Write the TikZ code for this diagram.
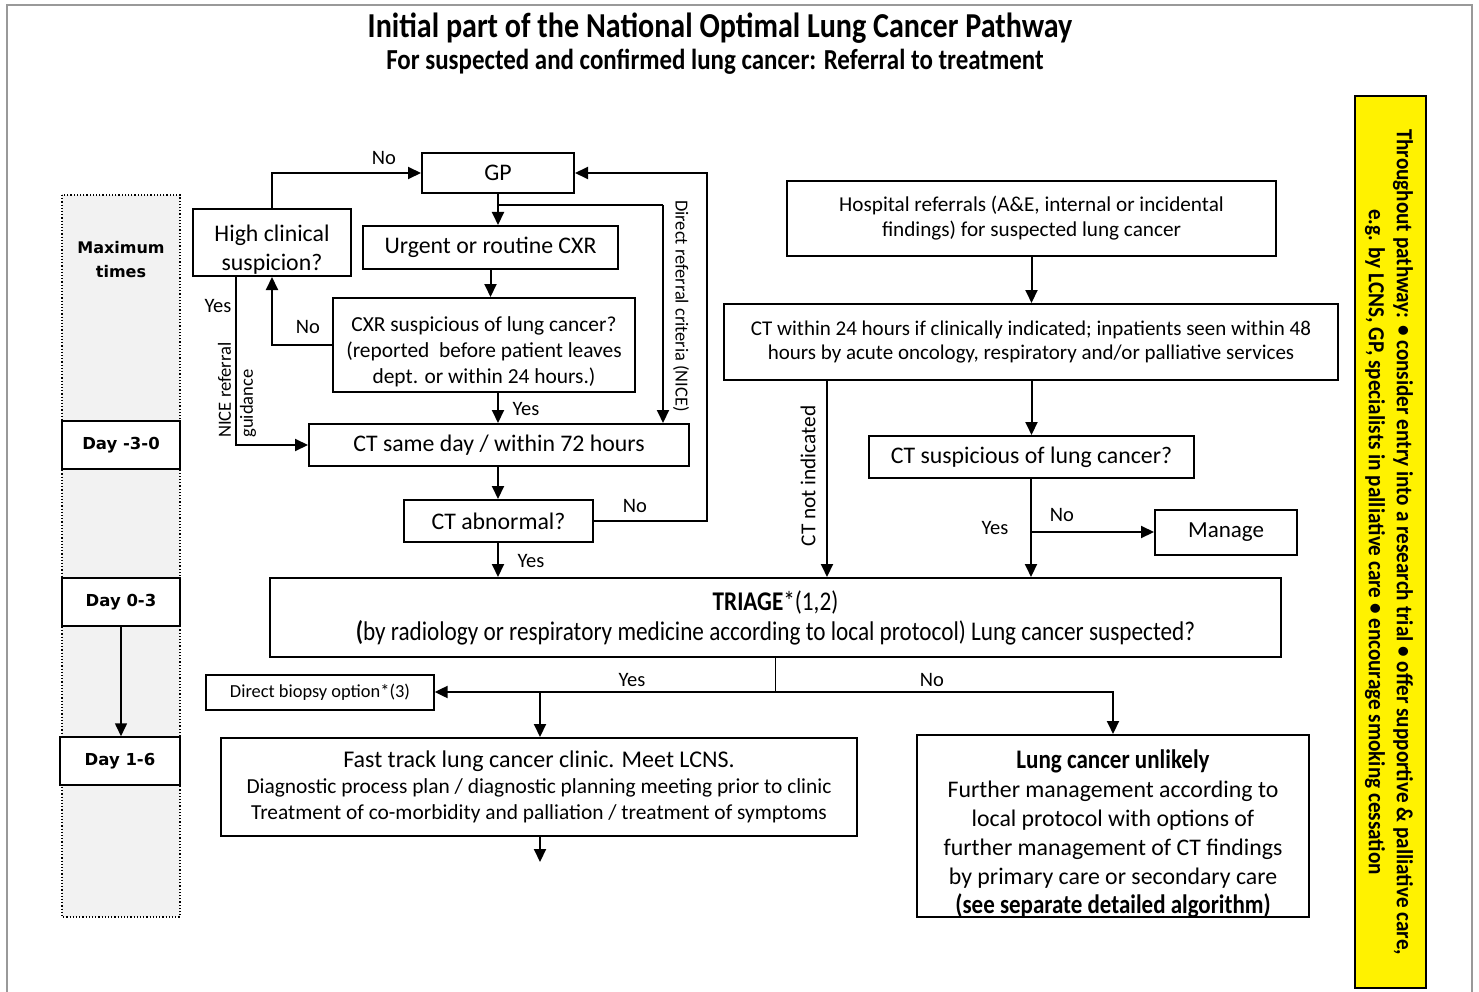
\documentclass[tikz,border=0pt]{standalone}
\usepackage{fontspec}
\setmainfont{Carlito}
\newfontfamily\condb[FakeStretch=0.86]{Carlito Bold}
\newfontfamily\condr[FakeStretch=0.86]{Carlito}
\newfontfamily\yelb[FakeStretch=0.92]{Carlito Bold}
\newfontfamily\dejab{DejaVu Sans Bold}
\usetikzlibrary{arrows.meta}
\begin{document}
\begin{tikzpicture}[x=1pt,y=-1pt,
  box/.style={draw=black, line width=2pt, fill=white, align=center, inner sep=2pt},
  daybox/.style={draw=black, line width=1.5pt, fill=white, align=center, font=\dejab\fontsize{16.5}{19}\selectfont},
  conn/.style={line width=2pt, -{Triangle[length=13pt,width=12pt]}},
  plain/.style={line width=2pt},
  lbl/.style={font=\fontsize{20.5}{24}\selectfont, inner sep=0pt},
  f24/.style={font=\fontsize{23.8}{28}\selectfont}]
\useasboundingbox (0,0) rectangle (1479,992);
\draw[gray!80, line width=1.5pt] (7,1000) -- (7,5) -- (1472,5) -- (1472,1000);
% titles
\node (title) at (720,28) {\condb\fontsize{35}{40}\selectfont Initial part of the National Optimal Lung Cancer Pathway};
\node (subtitle) at (715,62) {\condb\fontsize{29}{34}\selectfont For suspected and confirmed lung cancer: Referral to treatment};
% left column
\draw[fill=gray!10, draw=black, dotted, line width=1.2pt] (62,195) rectangle (180,917);
\node[align=center, font=\dejab\fontsize{16}{24}\selectfont] (maxt) at (121,260) {Maximum\\times};
\node[daybox, minimum width=118pt, minimum height=48pt] (d1) at (121,445) {Day -3-0};
\node[daybox, minimum width=118pt, minimum height=48pt] (d2) at (121,602) {Day 0-3};
\node[daybox, minimum width=120pt, minimum height=48pt] (d3) at (120,761) {Day 1-6};
\draw[conn, line width=1.6pt] (d2.south) -- (d2.south |- d3.north);
% yellow box
\node[draw=black, line width=1.5pt, fill=yellow, minimum width=71pt, minimum height=892pt] (yel) at (1390.5,542) {};
\node[rotate=-90, align=center, font=\yelb\fontsize{23}{28}\selectfont] (yeltxt) at (1389,542) {Throughout pathway: \textbullet\ consider entry into a research trial \textbullet\ offer supportive \& palliative care,\\e.g. by LCNS, GP, specialists in palliative care \textbullet\ encourage smoking cessation};
% main boxes
\node[box, f24, minimum width=152pt, minimum height=40pt] (gp) at (498,173) {GP};
\node[box, minimum width=158pt, minimum height=67pt, label={[align=center, font=\fontsize{23.8}{29}\selectfont, yshift=-7pt]center:High clinical\\suspicion?}] (hcs) at (272,242.5) {};
\node[box, f24, minimum width=255pt, minimum height=43pt] (ucxr) at (490.5,247.5) {Urgent or routine CXR};
\node[box, minimum width=302pt, minimum height=94pt, label={[align=center, font=\fontsize{21.4}{26}\selectfont, yshift=-7pt]center:CXR suspicious of lung cancer?\\(reported\ \ before patient leaves\\dept. or within 24 hours.)}] (cxrs) at (484,345) {};
\node[box, f24, minimum width=380pt, minimum height=42pt] (ctsd) at (499,445) {CT same day / within 72 hours};
\node[box, f24, minimum width=189pt, minimum height=42pt] (cta) at (498.5,521) {CT abnormal?};
\node[box, minimum width=1011pt, minimum height=79pt, font=\fontsize{27}{30}\selectfont] (triage) at (775.5,617.5) {{\condb TRIAGE}{\condr *(1,2)}\\{\condb(}{\condr by radiology or respiratory medicine according to local protocol) Lung cancer suspected?}};
\node[box, line width=1.3pt, minimum width=228pt, minimum height=35pt, font=\fontsize{18.4}{20}\selectfont] (db) at (320,692.5) {Direct biopsy option*(3)};
\node[box, minimum width=636pt, minimum height=98pt, font=\fontsize{21.4}{26}\selectfont] (ft) at (539,787) {{\fontsize{24}{27}\selectfont Fast track lung cancer clinic. Meet LCNS.}\\Diagnostic process plan / diagnostic planning meeting prior to clinic\\Treatment of co-morbidity and palliation / treatment of symptoms};
\node[box, minimum width=392pt, minimum height=182pt, label={[align=center, font=\fontsize{23.8}{29}\selectfont, yshift=-8pt]center:{\condb\fontsize{26.8}{29}\selectfont Lung cancer unlikely}\\Further management according to\\local protocol with options of\\further management of CT findings\\by primary care or secondary care\\{\condb\fontsize{26.7}{29}\selectfont (see separate detailed algorithm)}}] (lcu) at (1113,826) {};
\node[box, minimum width=489pt, minimum height=75pt, font=\fontsize{21.2}{25}\selectfont] (hr) at (1031.5,218.5) {Hospital referrals (A\&E, internal or incidental\\findings) for suspected lung cancer};
\node[box, minimum width=614pt, minimum height=76pt, font=\fontsize{21}{24.5}\selectfont] (ctw) at (1031,342) {CT within 24 hours if clinically indicated; inpatients seen within 48\\hours by acute oncology, respiratory and/or palliative services};
\node[box, f24, minimum width=325pt, minimum height=42pt] (cts) at (1031.5,457) {CT suspicious of lung cancer?};
\node[box, minimum width=142pt, minimum height=45pt, font=\fontsize{23}{27}\selectfont] (man) at (1226,532.5) {Manage};
% coordinates
\coordinate (drA) at (498,205);
\coordinate (drB) at (663,205);
\coordinate (noR) at (707,173);
\coordinate (hyes) at (236,276);
\coordinate (ctni) at (827,380);
\coordinate (split) at (775.5,692);
\coordinate (ftin) at (540,692);
\coordinate (ctsb) at (1031,532);
\coordinate (ftout) at (540,862);
% connectors
\draw[conn] (hcs.north) |- (gp.west);
\draw[conn] (gp.south) -- (gp.south |- ucxr.north);
\draw[plain] (drA) -- (drB);
\draw[conn] (drB) -- (drB |- ctsd.north);
\draw[conn] (ucxr.south) -- (ucxr.south |- cxrs.north);
\draw[conn] (cxrs.west) -| (hcs.south);
\draw[conn] (hyes) |- (ctsd.west);
\draw[conn] (gp.south |- cxrs.south) -- (gp.south |- ctsd.north);
\draw[conn] (gp.south |- ctsd.south) -- (gp.south |- cta.north);
\draw[conn] (cta.east) -| (noR) -- (gp.east);
\draw[conn] (gp.south |- cta.south) -- (gp.south |- triage.north);
\draw[conn] (hr.south) -- (hr.south |- ctw.north);
\draw[conn] (ctw.south -| cts.north) -- (cts.north);
\draw[conn] (ctni) -- (ctni |- triage.north);
\draw[conn] (ctsb |- cts.south) -- (ctsb |- triage.north);
\draw[conn] (ctsb) -- (ctsb -| man.west);
\draw[line width=1.3pt] (triage.south -| split) -- (split);
\draw[conn] (split) -- (split -| db.east);
\draw[conn] (split) -| (lcu.north);
\draw[conn] (ftin) -- (ftin |- ft.north);
\draw[conn] (ftin |- ft.south) -- (ftout);
% labels
\node[lbl] (l1) at (384,158) {No};
\node[lbl] (l2) at (218,306) {Yes};
\node[lbl] (l3) at (308,327) {No};
\node[lbl] (l4) at (526,409) {Yes};
\node[lbl] (l5) at (635,506) {No};
\node[lbl] (l6) at (531,561) {Yes};
\node[lbl] (l7) at (995,528) {Yes};
\node[lbl] (l8) at (1062,515) {No};
\node[lbl] (l9) at (632,680) {Yes};
\node[lbl] (l10) at (932,680) {No};
\node[lbl, rotate=-90, font=\fontsize{18.4}{21}\selectfont] (l11) at (681,306) {Direct referral criteria (NICE)};
\node[lbl, rotate=90, align=left, font=\fontsize{18.6}{22}\selectfont] (l12) at (237,390) {NICE referral\\guidance};
\node[lbl, rotate=90, font=\fontsize{21.3}{23}\selectfont] (l13) at (808,476) {CT not indicated};
\end{tikzpicture}
\end{document}
